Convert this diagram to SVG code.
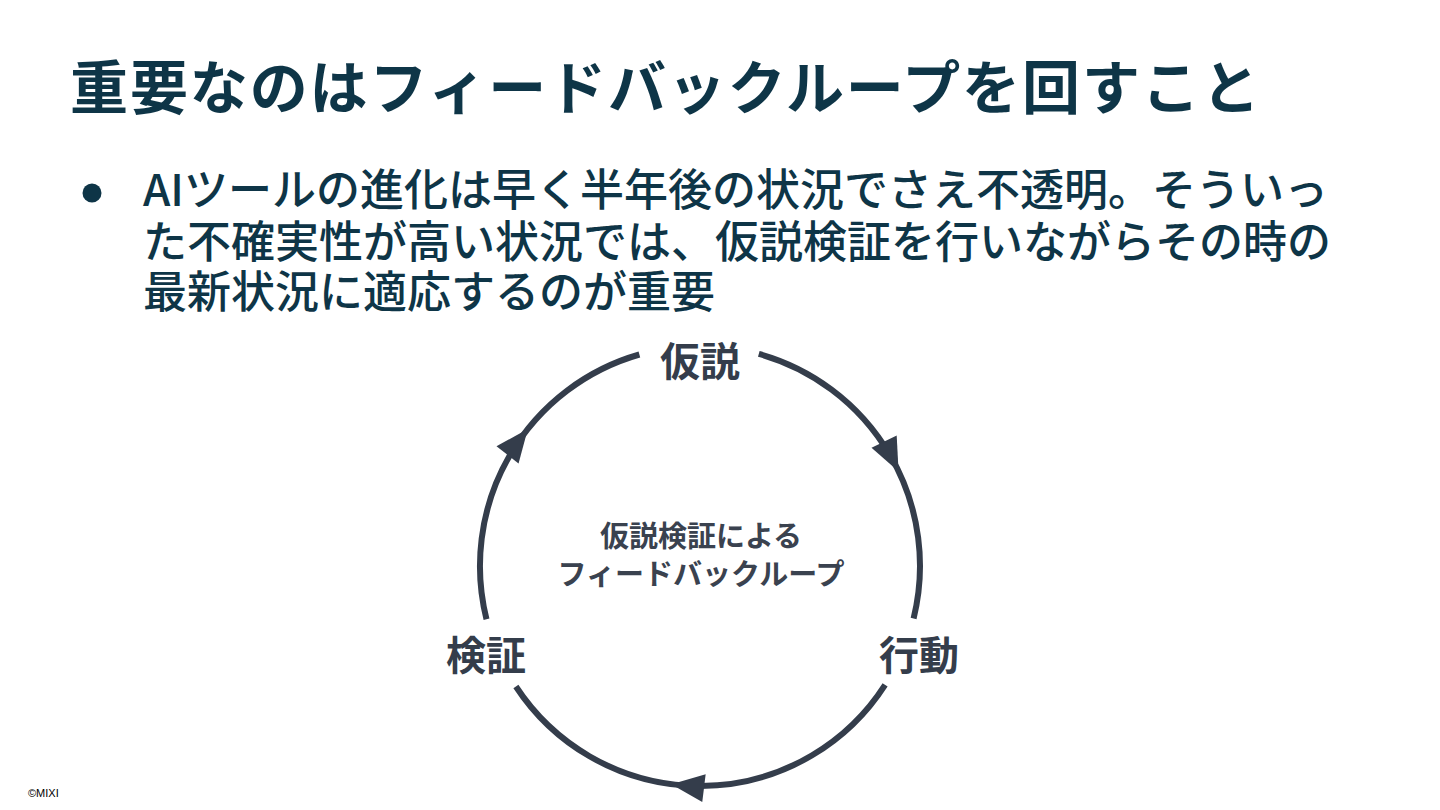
<svg xmlns="http://www.w3.org/2000/svg" width="1440" height="810" viewBox="0 0 1440 810">
<style>
.jp{font-family:"Noto Sans CJK JP","Noto Sans",sans-serif;}
.title{font-size:58px;font-weight:700;fill:#0e3547;}
.body{font-size:44px;font-weight:500;fill:#0e3547;}
.lbl{font-size:40px;font-weight:700;fill:#343d4b;text-anchor:middle;}
.ctr{font-size:29px;font-weight:700;fill:#3a424f;text-anchor:middle;}
.arc{fill:none;stroke:#343d4b;stroke-width:6;}
.head{fill:#343d4b;}
</style>
<rect width="1440" height="810" fill="#ffffff"/>
<g id="title"><text class="jp title" x="70" y="109" letter-spacing="1.9">重要なのはフィードバックループを回すこと</text></g>
<g id="body">
<circle cx="92" cy="193" r="9.5" fill="#0e3547"/>
<text class="jp body"><tspan x="143" y="206">AIツールの進化は早く半年後の状況でさえ不透明。そういっ</tspan><tspan x="143" y="258">た不確実性が高い状況では、仮説検証を行いながらその時の</tspan><tspan x="143" y="308">最新状況に適応するのが重要</tspan></text>
</g>
<g id="connectors">
<path class="arc" d="M758.8 353.9 A220 220 0 0 1 913.6 618.5"/>
<path class="arc" d="M885.1 684.8 A220 220 0 0 1 515.9 686.5"/>
<path class="arc" d="M486.5 619.2 A220 220 0 0 1 639.4 354.5"/>
<polygon class="head" points="2,0 -31,-14 -31,14" transform="translate(897.7 469.6) rotate(64)"/>
<polygon class="head" points="2,0 -31,-14 -31,14" transform="translate(673.2 784.4) rotate(187)"/>
<polygon class="head" points="2,0 -31,-14 -31,14" transform="translate(526.6 430.5) rotate(308)"/>
</g>
<g id="node-kasetsu"><text class="jp lbl" x="700" y="376">仮説</text></g>
<g id="node-koudou"><text class="jp lbl" x="919" y="670">行動</text></g>
<g id="node-kenshou"><text class="jp lbl" x="486" y="670">検証</text></g>
<g id="center-label">
<text class="jp ctr"><tspan x="701" y="547">仮説検証による</tspan><tspan x="701" y="585">フィードバックループ</tspan></text>
</g>
<text x="28" y="797" font-family="Liberation Sans, Arial, sans-serif" font-size="11" fill="#000">©MIXI</text>
</svg>
